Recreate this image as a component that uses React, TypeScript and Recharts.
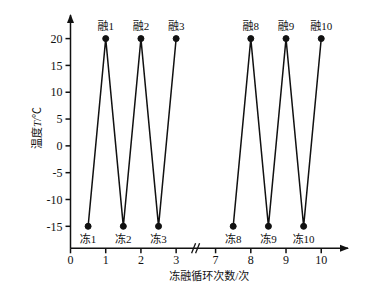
import React from 'react';
import { LineChart, Line, XAxis, YAxis, LabelList, ReferenceDot } from 'recharts';

// freeze-thaw cycles: x = cycle number, y = temperature
const firstCycles = [0.5, 1, 1.5, 2, 2.5, 3];
const firstTemps = [-15, 20, -15, 20, -15, 20];
const firstLabels = ['冻1', '融1', '冻2', '融2', '冻3', '融3'];

const lastCycles = [7.5, 8, 8.5, 9, 9.5, 10];
const lastTemps = [-15, 20, -15, 20, -15, 20];
const lastLabels = ['冻8', '融8', '冻9', '融9', '冻10', '融10'];

const xTicks = [0, 1, 2, 3, 7, 8, 9, 10];
const yTicks = [-15, -10, -5, 0, 5, 10, 15, 20];

// axis break between 3 and 7
const BREAK_AT = 3.5;
const BREAK_SHIFT = 2.88;
const toPos = (x: number) => (x <= BREAK_AT ? x : x - BREAK_SHIFT);
const fromPos = (p: number) => (p <= BREAK_AT ? p : p + BREAK_SHIFT);

const X_MAX = 7.88;
const Y_MIN = -19.1;
const Y_MAX = 24.4;

const serif = '"Liberation Serif", "Noto Sans CJK SC", serif';

const build = (xs: number[], ys: number[], labels: string[]) =>
  xs.map((x, i) => ({ pos: toPos(x), temp: ys[i], label: labels[i] }));

const firstData = build(firstCycles, firstTemps, firstLabels);
const lastData = build(lastCycles, lastTemps, lastLabels);

const PointLabel = (props: any) => {
  const { x, y, value, index, data } = props;
  const up = data[index].temp > 0;
  return (
    <text
      x={x}
      y={up ? y - 9 : y + 17}
      textAnchor="middle"
      fontSize={11}
      fontFamily={serif}
      fill="#111"
    >
      {value}
    </text>
  );
};

const Arrow = ({ cx, cy, dir }: any) => {
  if (dir === 'right') {
    return <path d={`M${cx + 1},${cy} L${cx - 8},${cy - 3.5} L${cx - 8},${cy + 3.5} Z`} fill="#111" />;
  }
  return <path d={`M${cx},${cy - 1} L${cx - 3.5},${cy + 8} L${cx + 3.5},${cy + 8} Z`} fill="#111" />;
};

const BreakMark = ({ cx, cy }: any) => (
  <g stroke="#111" strokeWidth={1.3}>
    <line x1={cx - 5} y1={cy + 5} x2={cx - 1} y2={cy - 5} />
    <line x1={cx - 1} y1={cy + 5} x2={cx + 3} y2={cy - 5} />
  </g>
);

const YLabel = () => (
  <text
    x={38}
    y={128}
    transform="rotate(-90 38 128)"
    textAnchor="middle"
    dominantBaseline="middle"
    fontSize={11}
    fontFamily={serif}
    fill="#111"
    stroke="none"
  >
    温度<tspan fontStyle="italic">T</tspan>/℃
  </text>
);

export default function App() {
  return (
    <div style={{ position: 'absolute', left: 0, top: 0, background: '#fff' }}>
      <LineChart width={365} height={284} margin={{ top: 15, right: 17, left: 0, bottom: 0 }}>
        <XAxis
          type="number"
          dataKey="pos"
          domain={[0, X_MAX]}
          ticks={xTicks.map(toPos)}
          tickFormatter={(p: number) => String(Math.round(fromPos(p)))}
          allowDataOverflow
          height={35.7}
          tickSize={5}
          tickMargin={2}
          stroke="#111"
          strokeWidth={1.5}
          tick={{ fontSize: 12, fontFamily: serif, fill: '#111' }}
          label={{
            value: '冻融循环次数/次',
            position: 'insideBottom',
            offset: 4,
            fontSize: 11,
            fontFamily: serif,
            fill: '#111',
          }}
        />
        <YAxis
          type="number"
          domain={[Y_MIN, Y_MAX]}
          ticks={yTicks}
          allowDataOverflow
          width={70.5}
          tickSize={5}
          tickMargin={3}
          stroke="#111"
          strokeWidth={1.5}
          tick={{ fontSize: 12, fontFamily: serif, fill: '#111' }}
          label={<YLabel />}
        />
        <Line
          data={firstData}
          dataKey="temp"
          stroke="#111"
          strokeWidth={1.5}
          dot={{ r: 3, fill: '#111', stroke: '#111', strokeWidth: 1 }}
          isAnimationActive={false}
        >
          <LabelList dataKey="label" content={(p: any) => <PointLabel {...p} data={firstData} />} />
        </Line>
        <Line
          data={lastData}
          dataKey="temp"
          stroke="#111"
          strokeWidth={1.5}
          dot={{ r: 3, fill: '#111', stroke: '#111', strokeWidth: 1 }}
          isAnimationActive={false}
        >
          <LabelList dataKey="label" content={(p: any) => <PointLabel {...p} data={lastData} />} />
        </Line>
        <ReferenceDot x={X_MAX} y={Y_MIN} ifOverflow="visible" shape={(p: any) => <Arrow {...p} dir="right" />} />
        <ReferenceDot x={0} y={Y_MAX} ifOverflow="visible" shape={(p: any) => <Arrow {...p} dir="up" />} />
        <ReferenceDot x={3.58} y={Y_MIN} ifOverflow="visible" shape={(p: any) => <BreakMark {...p} />} />
      </LineChart>
    </div>
  );
}
